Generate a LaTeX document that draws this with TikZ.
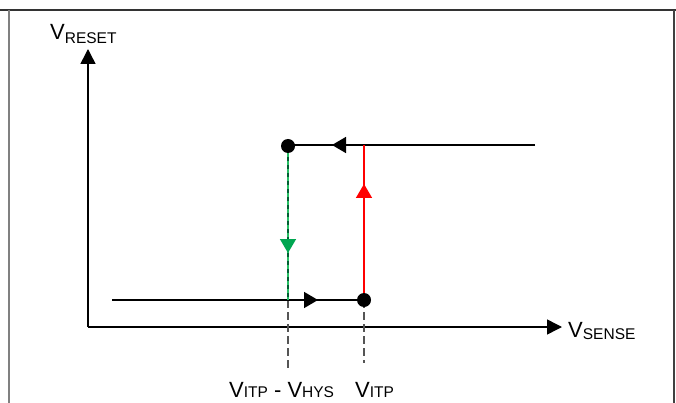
\documentclass[tikz,border=0pt]{standalone}
\usepackage{fontspec}
\setmainfont{Liberation Sans}
\usetikzlibrary{arrows.meta,decorations.markings}
\definecolor{dkgreen}{RGB}{0,95,50}
\definecolor{ltgreen}{RGB}{40,190,100}
\definecolor{headgreen}{RGB}{0,166,81}
\definecolor{framegray}{RGB}{128,128,128}
\definecolor{dashgray}{RGB}{85,85,85}
\newcommand{\Vlab}[2]{{\fontsize{22}{24}\selectfont V\raisebox{#2}{\fontsize{15.5}{16}\selectfont #1}}}
\begin{document}
\begin{tikzpicture}[x=1pt,y=-1pt,
  dotnode/.style={circle,fill=black,inner sep=0pt,minimum size=14pt},
  axisline/.style={line width=1.5pt,-{Triangle[length=15pt,width=15pt]}},
  trace/.style={line width=1.6pt},
  guide/.style={dashgray,line width=1.2pt,dash pattern=on 8pt off 4pt},
  lbl/.style={anchor=base west,inner sep=0pt},
  midarrow/.style 2 args={postaction={decorate},decoration={markings,mark=at position #1 with {\arrow[#2]{Triangle[length=14pt,width=16pt]}}}}
]
\useasboundingbox (0,0) rectangle (676,403);
% frame
\draw[line width=1.2pt,black!80] (0,10) -- (676,10);
\draw[line width=1.5pt,framegray] (9,10) -- (9,403);
\draw[line width=1.5pt,black!75] (674,10) -- (674,403);
% coordinates
\coordinate (O) at (88,327);
\coordinate (Ytip) at (88,49);
\coordinate (Xtip) at (562,327);
\coordinate (T1) at (535,145);
\coordinate (L1) at (112,300);
\coordinate (R) at (364,145);
\coordinate (G) at (288,300);
\coordinate (Gd) at (288,368);
\coordinate (B0) at (364,300);
\coordinate (Bd) at (364,363);
% axes
\draw[axisline] (O) -- (Ytip);
\draw[axisline] (O) -- (Xtip);
% guides
\draw[guide] (G) -- (Gd);
\draw[guide] (B0) -- (Bd);
% traces
\draw[trace,midarrow={203pt}{black}] (T1) -- (288,145);
\draw[trace,midarrow={206pt}{black}] (L1) -- (B0);
\draw[trace,red,midarrow={116pt}{red}] (B0) -- (R);
\draw[trace,dkgreen] (288,145) -- (G);
\draw[trace,ltgreen,dash pattern=on 4pt off 4pt,midarrow={108pt}{headgreen}] (288,145) -- (G);
% dots
\node[dotnode] (A) at (288,146) {};
\node[dotnode] (B) at (B0) {};
% labels
\node[lbl] (lreset) at (50,40) {\Vlab{RESET}{-4pt}};
\node[lbl] (lsense) at (568,337) {\Vlab{SENSE}{-2.7pt}};
\node[lbl] (lhys) at (229,397) {\Vlab{ITP}{0pt}{\fontsize{22}{24}\selectfont{} - }\Vlab{HYS}{0pt}};
\node[lbl] (litp) at (355,397) {\Vlab{ITP}{0pt}};
\end{tikzpicture}
\end{document}
